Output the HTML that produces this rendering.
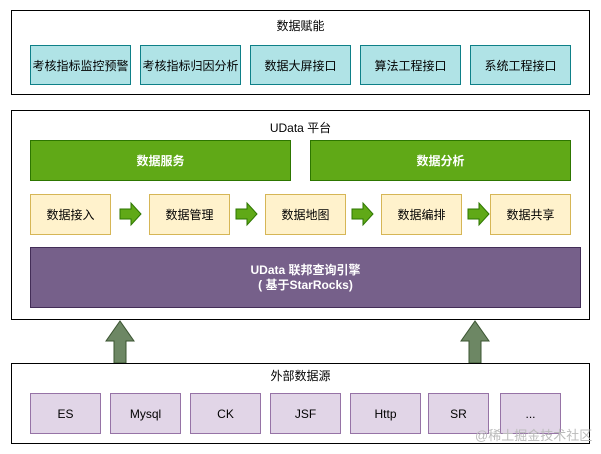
<!DOCTYPE html><html><head><meta charset="utf-8"><style>
body{margin:0;width:601px;height:454px;background:#fff;position:relative;font-family:"Liberation Sans","Noto Sans CJK SC",sans-serif;overflow:hidden}
.b{position:absolute;box-sizing:border-box;display:flex;align-items:center;justify-content:center;text-align:center;font-size:12px;color:#000}
.o{border:1px solid #000}
.t{position:absolute;font-size:12px;width:100%;text-align:center}
.c{background:#b0e3e6;border:1px solid #0e8088}
.g{background:#60a917;border:1px solid #2d7600;color:#fff;font-weight:bold}
.y{background:#fff2cc;border:1px solid #d6b656}
.p{background:#76608a;border:1px solid #432d57;color:#fff;line-height:15px;font-weight:bold}
.l{background:#e1d5e7;border:1px solid #9673a6}
</style></head><body>
<div class="b o" style="left:11px;top:10px;width:579px;height:85px"></div>
<div class="t" style="left:0;top:17px;width:601px">数据赋能</div>
<div class="b c" style="left:30px;top:45px;width:101px;height:40px">考核指标监控预警</div>
<div class="b c" style="left:140px;top:45px;width:101px;height:40px">考核指标归因分析</div>
<div class="b c" style="left:250px;top:45px;width:101px;height:40px">数据大屏接口</div>
<div class="b c" style="left:360px;top:45px;width:101px;height:40px">算法工程接口</div>
<div class="b c" style="left:470px;top:45px;width:101px;height:40px">系统工程接口</div>

<div class="b o" style="left:11px;top:110px;width:579px;height:210px"></div>
<div class="t" style="left:0;top:119px;width:601px">UData 平台</div>
<div class="b g" style="left:30px;top:140px;width:261px;height:41px">数据服务</div>
<div class="b g" style="left:310px;top:140px;width:261px;height:41px">数据分析</div>
<div class="b y" style="left:30px;top:194px;width:81px;height:41px">数据接入</div>
<div class="b y" style="left:149px;top:194px;width:81px;height:41px">数据管理</div>
<div class="b y" style="left:265px;top:194px;width:81px;height:41px">数据地图</div>
<div class="b y" style="left:381px;top:194px;width:81px;height:41px">数据编排</div>
<div class="b y" style="left:490px;top:194px;width:81px;height:41px">数据共享</div>
<svg style="position:absolute;left:0;top:0" width="601" height="454">
<g fill="#60a917" stroke="#2d7600" stroke-width="1">
<path d="M120,209h11v-6l10,11l-10,11v-6h-11z"/>
<path d="M236,209h11v-6l10,11l-10,11v-6h-11z"/>
<path d="M352,209h11v-6l10,11l-10,11v-6h-11z"/>
<path d="M468,209h11v-6l10,11l-10,11v-6h-11z"/>
</g>
<g fill="#6d8764" stroke="#3a5431" stroke-width="1">
<path d="M114,363v-22h-8l14,-20l14,20h-8v22z"/>
<path d="M469,363v-22h-8l14,-20l14,20h-8v22z"/>
</g>
</svg>
<div class="b p" style="left:30px;top:247px;width:551px;height:61px">UData 联邦查询引擎<br>( 基于StarRocks)</div>

<div class="b o" style="left:11px;top:363px;width:579px;height:81px"></div>
<div class="t" style="left:0;top:367px;width:601px">外部数据源</div>
<div class="b l" style="left:30px;top:393px;width:71px;height:41px">ES</div>
<div class="b l" style="left:110px;top:393px;width:71px;height:41px">Mysql</div>
<div class="b l" style="left:190px;top:393px;width:71px;height:41px">CK</div>
<div class="b l" style="left:270px;top:393px;width:71px;height:41px">JSF</div>
<div class="b l" style="left:350px;top:393px;width:71px;height:41px">Http</div>
<div class="b l" style="left:428px;top:393px;width:61px;height:41px">SR</div>
<div class="b l" style="left:500px;top:393px;width:61px;height:41px">...</div>
<div style="position:absolute;left:475px;top:425px;font-size:13px;color:#bbb">@稀土掘金技术社区</div>
</body></html>
